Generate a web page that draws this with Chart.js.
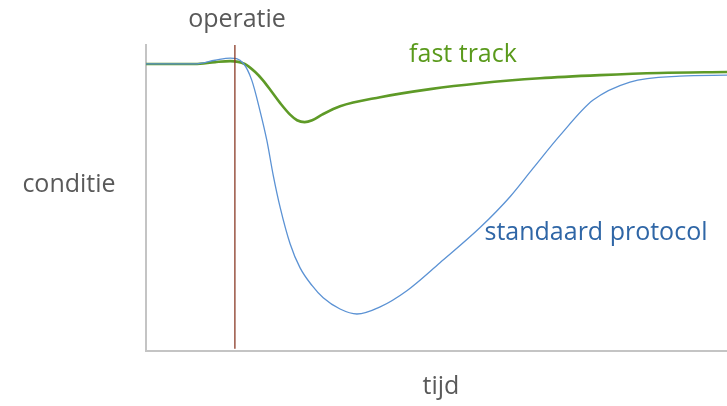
<!DOCTYPE html>
<html>
<head>
<meta charset="utf-8">
<script src="https://cdn.jsdelivr.net/npm/chart.js@4"></script>
<style>
  html, body { margin: 0; padding: 0; background: #fff; }
  #wrap { width: 727px; height: 406px; }
</style>
</head>
<body>
<div id="wrap"><canvas id="myChart" width="727" height="406"></canvas></div>
<script>
// tijd (x) en conditie (y)
const tijdStandaard = [0, 8.4, 11.9, 14.5, 16.7, 18.2, 19.6, 20.8, 21.9, 23.1, 24.8, 26.5, 28.6, 30.5, 33.4, 36.3, 40.3, 44.9, 50.6, 57.5, 62.7, 66.6, 71.3, 76.9, 83.3, 91.9, 100];
const conditieStandaard = [92.3, 92.3, 93.5, 94.2, 92.6, 87.1, 77.4, 67.7, 56.5, 46.1, 34.5, 26.8, 21.0, 17.1, 13.5, 11.9, 14.2, 19.4, 28.4, 39.7, 49.7, 58.7, 69.4, 80.6, 86.5, 88.4, 88.7];

const tijdFast = [0, 8.4, 11.9, 14.5, 17.0, 18.8, 20.1, 21.7, 23.1, 24.8, 26.0, 27.3, 28.6, 30.3, 33.4, 40.3, 48.9, 57.5, 67.8, 78.1, 88.4, 100];
const conditieFast = [92.3, 92.3, 92.9, 93.2, 92.3, 89.7, 87.1, 83.2, 79.7, 76.0, 74.2, 73.6, 74.2, 76.0, 78.7, 81.6, 84.2, 86.1, 87.7, 88.7, 89.4, 89.7];

const operatieTijd = 15.3;
const operatieLijn = [0.7, 98.4];

const labels = [
  { text: 'operatie', x: 237, y: 27, color: '#595959' },
  { text: 'conditie', x: 69, y: 192, color: '#595959' },
  { text: 'tijd', x: 441, y: 394, color: '#595959' },
  { text: 'fast track', x: 463, y: 62, color: '#5a9a1c' },
  { text: 'standaard protocol', x: 596, y: 240, color: '#2f66a6' }
];

const tekstPlugin = {
  id: 'tekst',
  afterDraw(chart) {
    const ctx = chart.ctx;
    ctx.save();
    ctx.font = '25px "Open Sans", sans-serif';
    ctx.textBaseline = 'alphabetic';
    ctx.textAlign = 'center';
    labels.forEach(l => {
      ctx.fillStyle = l.color;
      ctx.fillText(l.text, l.x, l.y);
    });
    ctx.restore();
  }
};

const toPoints = (xs, ys) => xs.map((x, i) => ({ x: x, y: ys[i] }));

let myChart = document.getElementById('myChart').getContext('2d');

const lineChart = new Chart(myChart, {
  type: 'line',
  data: {
    datasets: [
      {
        label: 'operatie',
        data: operatieLijn.map(y => ({ x: operatieTijd, y: y })),
        borderColor: '#8a3a26',
        borderWidth: 1.3,
        pointRadius: 0
      },
      {
        label: 'standaard protocol',
        data: toPoints(tijdStandaard, conditieStandaard),
        borderColor: '#5b92d4',
        borderWidth: 1.3,
        pointRadius: 0,
        cubicInterpolationMode: 'monotone'
      },
      {
        label: 'fast track',
        data: toPoints(tijdFast, conditieFast),
        borderColor: '#5e9a27',
        borderWidth: 2.6,
        pointRadius: 0,
        cubicInterpolationMode: 'monotone'
      }
    ]
  },
  options: {
    responsive: false,
    animation: false,
    layout: { padding: { left: 138, right: 0, top: 45, bottom: 47 } },
    scales: {
      x: {
        type: 'linear',
        min: 0,
        max: 100,
        grid: { display: false },
        ticks: { display: false },
        border: { display: true, color: '#c4c4c4', width: 2 }
      },
      y: {
        min: 0,
        max: 98.4,
        grid: { display: false },
        ticks: { display: false },
        border: { display: true, color: '#c4c4c4', width: 2 }
      }
    },
    plugins: {
      legend: { display: false },
      tooltip: { enabled: false }
    }
  },
  plugins: [tekstPlugin]
});
</script>
</body>
</html>
